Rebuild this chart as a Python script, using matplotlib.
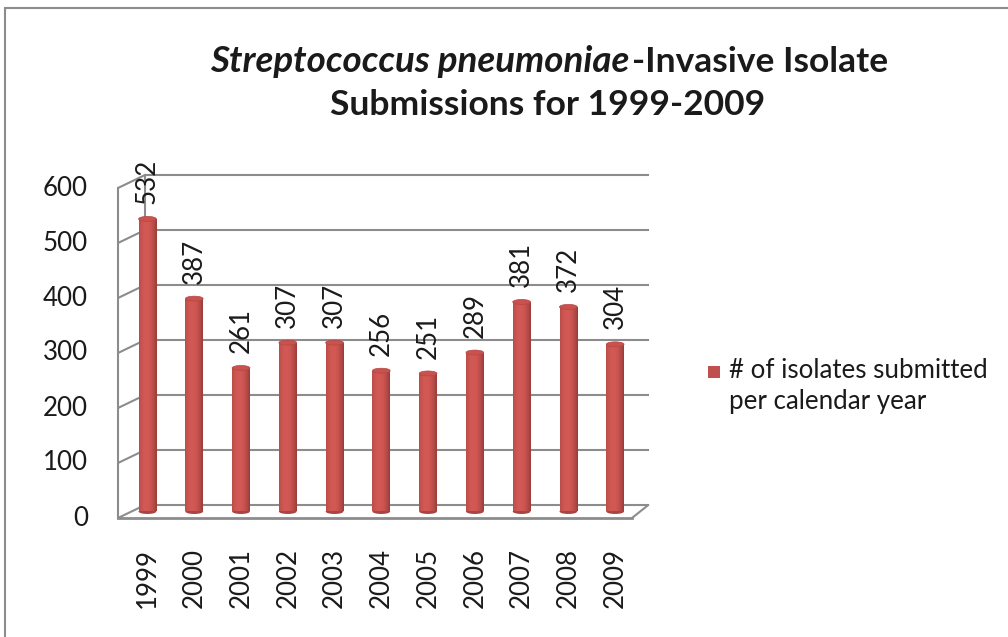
import numpy as np
import matplotlib
matplotlib.use("Agg")
import matplotlib.pyplot as plt
from matplotlib.transforms import ScaledTranslation
from matplotlib.patches import Ellipse, Rectangle

years = ["1999", "2000", "2001", "2002", "2003", "2004", "2005", "2006", "2007", "2008", "2009"]
isolates = [532, 387, 261, 307, 307, 256, 251, 289, 381, 372, 304]
yticks = [0, 100, 200, 300, 400, 500, 600]
legend_label = "# of isolates submitted\nper calendar year"

plt.rcParams["font.family"] = ["Lato", "DejaVu Sans"]

W, H = 1008, 637
fig = plt.figure(figsize=(W / 100, H / 100), dpi=100)
txt = "#1a1a1a"
fs = 18.6

# frame around the chart
fig.patches.append(Rectangle((5 / W, -0.05), (W + 20) / W, (H - 8) / H + 0.05,
                             transform=fig.transFigure, fill=False,
                             edgecolor="#8c8c8c", linewidth=1.5))

# front plane of plot area, in pixels
left, right, bottom, top = 118, 632, 518, 188
ax = fig.add_axes([left / W, (H - bottom) / H, (right - left) / W, (bottom - top) / H])
x0, x1 = -0.63, 10.36
ax.set_xlim(x0, x1)
ax.set_ylim(0, 600)
ax.axis("off")

grey = "#8c8c8c"
dx, dy = 27 / 100, 13 / 100   # depth offset in inches
back = ax.transData + ScaledTranslation(dx, dy, fig.dpi_scale_trans)
mid = ax.transData + ScaledTranslation(0, 6.5 / 100, fig.dpi_scale_trans)
xb = 10.13  # right end of back wall (in back coords)


def connect(xf, yf, xbk, ybk, lw=1.5):
    ax.annotate("", xy=(xbk, ybk), xycoords=back, xytext=(xf, yf), textcoords="data",
                arrowprops=dict(arrowstyle="-", color=grey, lw=lw, shrinkA=0, shrinkB=0))


for v in yticks:
    ax.plot([x0, xb], [v, v], color=grey, lw=1.5, transform=back, clip_on=False)
    connect(x0, v, x0, v)
    ax.text(x0, v, str(v), transform=ax.transData + ScaledTranslation(-30 / 100, 0, fig.dpi_scale_trans),
            ha="right", va="center", fontsize=fs, color=txt)

# side wall vertical edges
ax.plot([x0, x0], [0, 600], color=grey, lw=1.5, transform=back, clip_on=False)
ax.plot([x0, x0], [0, 600], color=grey, lw=1.5, clip_on=False)
# floor
ax.plot([x0, x1], [0, 0], color=grey, lw=2, clip_on=False)
connect(x1, 0, xb, 0)

# cylinders
x = np.arange(len(years))
bw = 0.38
grad = np.linspace(0, 1, 64)
shade = np.clip(1 - 2.2 * (grad - 0.4) ** 2, 0, 1)
cmap = matplotlib.colors.LinearSegmentedColormap.from_list("cyl", ["#8a3431", "#d35955"])
bars = ax.bar(x, isolates, width=bw, color="#c0504d", transform=mid, zorder=3)
for xi, v, b in zip(x, isolates, bars):
    im = ax.imshow(shade[np.newaxis, :], cmap=cmap, aspect="auto", vmin=0, vmax=1,
                   extent=(xi - bw / 2, xi + bw / 2, 0, v), transform=mid, zorder=3)
    im.set_clip_path(b)
    b.set_alpha(0)
    ell_h = 9  # data units
    ax.add_patch(Ellipse((xi, 0), bw, ell_h, facecolor="#a84442", edgecolor="none",
                         transform=mid, zorder=2.9))
    ax.add_patch(Ellipse((xi, v), bw, ell_h, facecolor="#c9514e", edgecolor="#b54744",
                         lw=0.5, transform=mid, zorder=4))
    ax.text(xi, v + 27, str(v), rotation=90, ha="center", va="bottom", fontsize=fs,
            color=txt, transform=mid, zorder=5)
ax.set_xlim(x0, x1)
ax.set_ylim(0, 600)

# category labels
for xi, yr in zip(x, years):
    ax.text(xi, 0, yr, rotation=90, ha="center", va="top", fontsize=fs, color=txt,
            transform=ax.transData + ScaledTranslation(0, -30 / 100, fig.dpi_scale_trans))

# legend
fig.patches.append(Rectangle((708 / W, (H - 378) / H), 12 / W, 12 / H, transform=fig.transFigure,
                             facecolor="#c0504d", edgecolor="none"))
fig.text(729 / W, (H - 372) / H, legend_label, ha="left", va="top", fontsize=fs,
         color=txt, linespacing=1.3,
         transform=fig.transFigure + ScaledTranslation(0, 14 / 100, fig.dpi_scale_trans))

# title with italic species name
tfs = 25.5
t1 = fig.text(0, (H - 62) / H, "Streptococcus pneumoniae", fontsize=tfs + 1, fontweight="bold",
              style="italic", va="center", ha="left", color=txt)
t2 = fig.text(0, (H - 62) / H, "-Invasive Isolate", fontsize=tfs, fontweight="bold",
              va="center", ha="left", color=txt)
fig.text(548 / W, (H - 105) / H, "Submissions for 1999-2009", fontsize=tfs, fontweight="bold",
         va="center", ha="center", color=txt)
fig.canvas.draw()
r = fig.canvas.get_renderer()
w1 = t1.get_window_extent(r).width
w2 = t2.get_window_extent(r).width
start = 548 - (w1 + w2) / 2
t1.set_x(start / W)
t2.set_x((start + w1 + 2) / W)

fig.savefig("out.png", dpi=100)
